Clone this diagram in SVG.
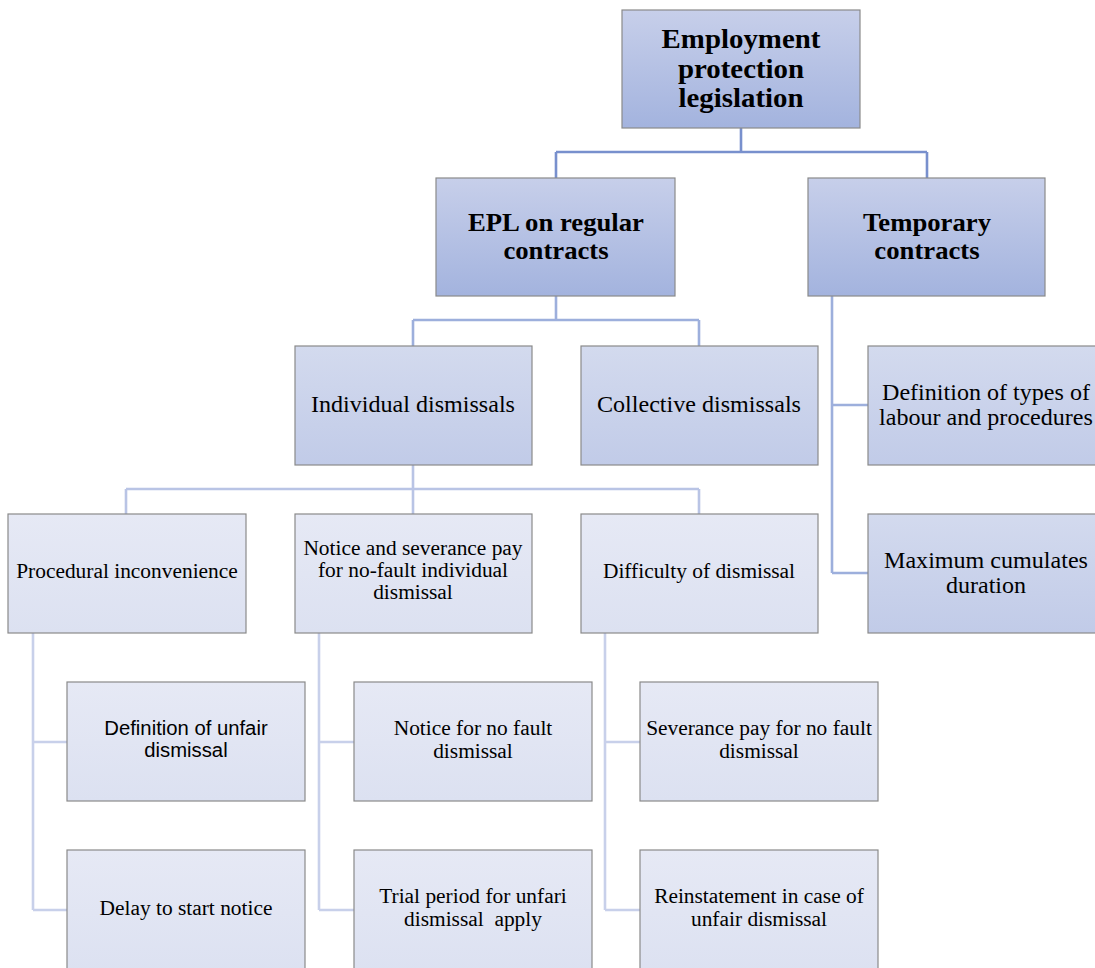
<svg xmlns="http://www.w3.org/2000/svg" width="1095" height="968" viewBox="0 0 1095 968">
<defs>
<linearGradient id="g1" x1="0" y1="0" x2="0" y2="1"><stop offset="0" stop-color="#c7cfea"/><stop offset="1" stop-color="#a3b3de"/></linearGradient>
<linearGradient id="g2" x1="0" y1="0" x2="0" y2="1"><stop offset="0" stop-color="#d3daee"/><stop offset="1" stop-color="#c1cbe8"/></linearGradient>
<linearGradient id="g3" x1="0" y1="0" x2="0" y2="1"><stop offset="0" stop-color="#e6e9f5"/><stop offset="1" stop-color="#dce1f1"/></linearGradient>
<style>
.b{stroke:#8a8a8a;stroke-width:1.2}
.t1{fill:url(#g1)}.t2{fill:url(#g2)}.t3{fill:url(#g3)}
text{font-family:"Liberation Serif","Times New Roman",serif;fill:#000;text-anchor:middle}
.bold{font-weight:bold}
.sans{font-family:"Liberation Sans",Arial,sans-serif;font-size:19.5px}
.f1{font-size:26.5px}.f2{font-size:24.5px}.f3{font-size:22.5px}.f4{font-size:20px}
.c{fill:none;stroke-width:2.6}
.c1{stroke:#7890cd}.c2{stroke:#9dafdc}.c3{stroke:#b9c4e5}.c4{stroke:#c8d0ea}
</style>
</defs>
<rect width="1095" height="968" fill="#fff"/>
<g id="connectors">
<path class="c c1" d="M741 128V152M556 152H927M556 152V178M927 152V178"/>
<path class="c c2" d="M556 296V320M413 320H699M413 320V346M699 320V346"/>
<path class="c c2" d="M832 296V573M832 405H868M832 573H868"/>
<path class="c c3" d="M413 465V489M126 489H699M126 489V514M413 489V514M699 489V514"/>
<path class="c c4" d="M33 633V910M33 742H67M33 910H67"/>
<path class="c c4" d="M319 633V910M319 742H354M319 910H354"/>
<path class="c c4" d="M605 633V910M605 742H640M605 910H640"/>
</g>
<g id="n-epl"><rect class="b t1" x="622" y="10" width="238" height="118"/>
<text class="bold f1" x="741" y="48.5" transform="matrix(1.09 0 0 1 -66.69 0)">Employment<tspan x="741" dy="29.4">protection</tspan><tspan x="741" dy="29.4">legislation</tspan></text></g>
<g id="n-regular"><rect class="b t1" x="436" y="178" width="239" height="118"/>
<text class="bold f2" x="556" y="231.4" transform="matrix(1.09 0 0 1 -50.04 0)">EPL on regular<tspan x="556" dy="27.2">contracts</tspan></text></g>
<g id="n-temp"><rect class="b t1" x="808" y="178" width="237" height="118"/>
<text class="bold f2" x="927" y="231.4" transform="matrix(1.09 0 0 1 -83.43 0)">Temporary<tspan x="927" dy="27.2">contracts</tspan></text></g>
<g id="n-indiv"><rect class="b t2" x="295" y="346" width="237" height="119"/>
<text class="f3" x="413" y="412.5" transform="matrix(1.07 0 0 1 -28.91 0)">Individual dismissals</text></g>
<g id="n-coll"><rect class="b t2" x="581" y="346" width="237" height="119"/>
<text class="f3" x="699" y="412.5" transform="matrix(1.07 0 0 1 -48.93 0)">Collective dismissals</text></g>
<g id="n-types"><rect class="b t2" x="868" y="346" width="240" height="119"/>
<text class="f3" x="986" y="400.5" transform="matrix(1.07 0 0 1 -69.02 0)">Definition of types of<tspan x="986" dy="25">labour and procedures</tspan></text></g>
<g id="n-max"><rect class="b t2" x="868" y="514" width="240" height="119"/>
<text class="f3" x="986" y="568.5" transform="matrix(1.07 0 0 1 -69.02 0)">Maximum cumulates<tspan x="986" dy="25">duration</tspan></text></g>
<g id="n-proc"><rect class="b t3" x="8" y="514" width="238" height="119"/>
<text class="f4" x="127" y="578.5" transform="matrix(1.07 0 0 1 -8.89 0)">Procedural inconvenience</text></g>
<g id="n-notice"><rect class="b t3" x="295" y="514" width="237" height="119"/>
<text class="f4" x="413" y="554.8" transform="matrix(1.07 0 0 1 -28.91 0)">Notice and severance pay<tspan x="413" dy="22.2">for no-fault individual</tspan><tspan x="413" dy="22.2">dismissal</tspan></text></g>
<g id="n-diff"><rect class="b t3" x="581" y="514" width="237" height="119"/>
<text class="f4" x="699" y="578.5" transform="matrix(1.07 0 0 1 -48.93 0)">Difficulty of dismissal</text></g>
<g id="n-defunfair"><rect class="b t3" x="67" y="682" width="238" height="119"/>
<text class="sans" x="186" y="735.5" transform="matrix(1.04 0 0 1 -7.44 0)">Definition of unfair<tspan x="186" dy="22">dismissal</tspan></text></g>
<g id="n-delay"><rect class="b t3" x="67" y="850" width="238" height="125"/>
<text class="f4" x="186" y="915.5" transform="matrix(1.07 0 0 1 -13.02 0)">Delay to start notice</text></g>
<g id="n-noticenf"><rect class="b t3" x="354" y="682" width="238" height="119"/>
<text class="f4" x="473" y="735.4" transform="matrix(1.07 0 0 1 -33.11 0)">Notice for no fault<tspan x="473" dy="22.2">dismissal</tspan></text></g>
<g id="n-trial"><rect class="b t3" x="354" y="850" width="238" height="125"/>
<text class="f4" x="473" y="903.4" xml:space="preserve" transform="matrix(1.07 0 0 1 -33.11 0)">Trial period for unfari<tspan x="473" dy="22.2">dismissal  apply</tspan></text></g>
<g id="n-sev"><rect class="b t3" x="640" y="682" width="238" height="119"/>
<text class="f4" x="759" y="735.4" transform="matrix(1.07 0 0 1 -53.13 0)">Severance pay for no fault<tspan x="759" dy="22.2">dismissal</tspan></text></g>
<g id="n-reinst"><rect class="b t3" x="640" y="850" width="238" height="125"/>
<text class="f4" x="759" y="903.4" transform="matrix(1.07 0 0 1 -53.13 0)">Reinstatement in case of<tspan x="759" dy="22.2">unfair dismissal</tspan></text></g>
</svg>
